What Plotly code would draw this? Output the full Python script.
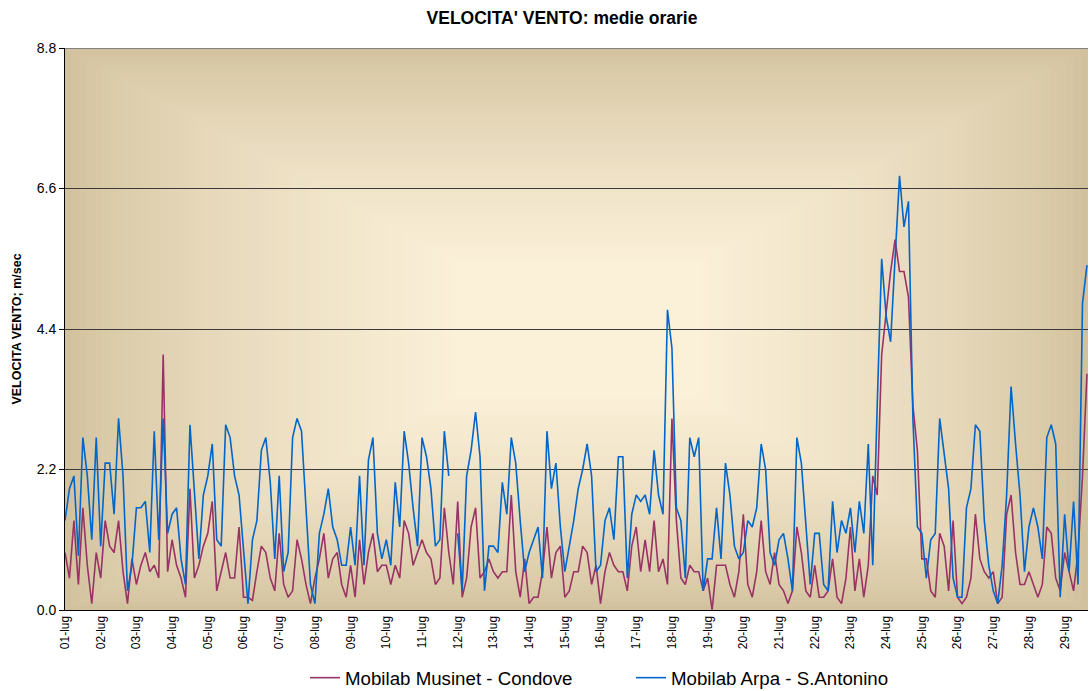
import base64
import pandas as pd
import plotly.graph_objects as go

# medie orarie, lette ogni 3 ore (01-lug 00:00 -> 29-lug 15:00)
condove = [
    0.9, 0.5, 1.4, 0.4, 1.6, 0.7, 0.1, 0.9, 0.5, 1.4, 1.0, 0.9, 1.4, 0.6, 0.1, 0.8,
    0.4, 0.7, 0.9, 0.6, 0.7, 0.5, 4.0, 0.6, 1.1, 0.7, 0.5, 0.2, 1.9, 0.5, 0.7, 1.0,
    1.2, 1.7, 0.3, 0.6, 0.9, 0.5,
    0.5, 1.3, 0.2, 0.2, 0.15, 0.6, 1.0, 0.9, 0.5, 0.3, 1.2, 0.4, 0.2, 0.3, 1.1, 0.8,
    0.4, 0.1, 0.5, 0.8, 1.2, 0.5, 0.8, 0.9, 0.4, 0.2, 0.7, 0.2, 1.1, 0.4, 0.9, 1.2,
    0.6, 0.7, 0.7, 0.4,
    0.7, 0.5, 1.4, 1.2, 0.7, 0.9, 1.1, 0.9, 0.8, 0.4, 0.5, 1.6, 0.9, 0.4, 1.7, 0.2,
    0.5, 1.3, 1.6, 0.5, 0.6, 0.8, 0.6, 0.5, 0.6, 0.6, 1.8, 0.6, 0.2, 0.8, 0.1, 0.2,
    0.2, 0.6, 1.3, 0.5, 0.9, 1.0,
    0.2, 0.3, 0.6, 0.6, 1.0, 0.9, 0.4, 0.7, 0.1, 0.6, 0.9, 0.7, 0.6, 0.6, 0.3, 1.0,
    1.3, 0.6, 1.1, 0.6, 1.4, 0.6, 0.8, 0.4, 3.0, 1.4, 0.5, 0.4, 0.7, 0.6, 0.6, 0.3,
    0.5, 0.0, 0.7, 0.7,
    0.7, 0.4, 0.2, 0.6, 1.5, 0.4, 0.2, 0.6, 1.4, 0.6, 0.4, 0.9, 0.4, 0.3, 0.1, 0.3,
    1.3, 0.9, 0.3, 0.2, 0.7, 0.2, 0.2, 0.3, 0.8, 0.2, 0.1, 0.5, 1.3, 0.3, 0.8, 0.2,
    0.7, 2.1, 1.8, 4.0, 4.7, 5.3, 5.8, 5.3, 5.3, 4.9, 3.2, 2.5,
    0.8, 0.8, 0.3, 0.2, 1.2, 1.0, 0.3, 1.4, 0.2, 0.1, 0.2, 0.5, 1.5, 0.8, 0.6, 0.5,
    0.6, 0.1, 0.2, 1.5, 1.8, 0.9, 0.4,
    0.4, 0.6, 0.4, 0.2, 0.4, 1.3, 1.2, 0.5, 0.3, 0.9, 0.6, 0.3, 0.9, 2.1, 3.7,
]

santonino = [
    1.4, 1.9, 2.1, 0.85, 2.7, 2.1, 1.1, 2.7, 1.0, 2.3, 2.3, 1.5, 3.0, 2.1, 0.3, 0.7,
    1.6, 1.6, 1.7, 0.9, 2.8, 1.1, 3.0, 1.2, 1.5, 1.6, 0.8, 0.4, 2.9, 1.9, 0.8, 1.8,
    2.1, 2.6, 1.1, 1.0, 2.9, 2.7,
    2.1, 1.8, 1.0, 0.1, 1.1, 1.4, 2.5, 2.7, 2.0, 0.8, 2.1, 0.6, 0.9, 2.7, 3.0, 2.8,
    1.6, 0.4, 0.1, 1.2, 1.5, 1.9, 1.3, 1.1, 0.7, 0.7, 1.3, 0.7, 2.1, 0.7, 2.35, 2.7,
    1.2, 0.8, 1.1, 0.7,
    2.0, 1.3, 2.8, 2.3, 1.6, 1.0, 2.7, 2.4, 1.9, 1.0, 1.1, 2.8, 2.1, None, 1.2, 0.3,
    2.1, 2.5, 3.1, 2.4, 0.3, 1.0, 1.0, 0.9, 2.0, 1.5, 2.7, 2.3, 1.4, 0.6, 0.9, 1.1,
    1.3, 0.5, 2.8, 1.9, 2.3, 1.3,
    0.6, 1.0, 1.4, 1.9, 2.2, 2.6, 2.1, 0.6, 0.7, 1.4, 1.6, 1.1, 2.4, 2.4, 0.5, 1.5,
    1.8, 1.7, 1.8, 1.5, 2.5, 1.8, 1.5, 4.7, 4.1, 1.6, 1.4, 0.5, 2.7, 2.4, 2.7, 0.3,
    0.8, 0.8, 1.6, 0.8,
    2.3, 1.8, 1.0, 0.8, 0.9, 1.4, 1.3, 1.6, 2.6, 2.2, 0.9, 0.7, 1.1, 1.2, 0.8, 0.3,
    2.7, 2.3, 1.3, 0.4, 1.2, 1.2, 0.4, 0.3, 1.7, 0.9, 1.4, 1.2, 1.6, 0.9, 1.7, 1.2,
    2.6, 0.7, 3.2, 5.5, 4.6, 4.2, 5.5, 6.8, 6.0, 6.4, 3.0, 1.3,
    1.2, 0.5, 1.1, 1.2, 3.0, 2.4, 1.9, 0.5, 0.2, 0.2, 1.6, 1.9, 2.9, 2.8, 1.4, 0.7,
    0.3, 0.1, 0.7, 1.8, 3.5, 2.6, 1.8,
    0.6, 1.3, 1.6, 1.3, 0.8, 2.7, 2.9, 2.6, 0.2, 1.5, 0.6, 1.7, 0.4, 4.8, 5.4,
]

day_labels = [f"{d:02d}-lug" for d in range(1, 30)]
y_ticks = [0.0, 2.2, 4.4, 6.6, 8.8]

start = pd.Timestamp("2023-07-01 00:00")
times = pd.date_range(start, periods=len(condove), freq="3h")
day_ticks = pd.date_range(start, periods=len(day_labels), freq="D")

# sfondo a gradiente rettangolare (chiaro al centro, beige ai bordi)
outer = (210, 193, 157)
inner = (251, 240, 216)
W, H, N = 1023, 562, 70
rects = []
for i in range(N):
    t = i / N
    k = min(1.0, t / 0.75) ** 0.7
    c = tuple(int(outer[j] + (inner[j] - outer[j]) * k) for j in range(3))
    rects.append(
        f'<rect x="{t * W / 2:.1f}" y="{t * H / 2:.1f}" width="{W * (1 - t):.1f}" '
        f'height="{H * (1 - t):.1f}" fill="rgb{c}"/>'
    )
svg = (f'<svg xmlns="http://www.w3.org/2000/svg" width="{W}" height="{H}" '
       f'viewBox="0 0 {W} {H}" preserveAspectRatio="none">' + "".join(rects) + "</svg>")
bg_src = "data:image/svg+xml;base64," + base64.b64encode(svg.encode()).decode()

fig = go.Figure()
fig.add_trace(go.Scatter(
    x=times, y=condove, mode="lines", name="Mobilab Musinet - Condove",
    line=dict(color="#993366", width=1.6),
))
fig.add_trace(go.Scatter(
    x=times, y=santonino, mode="lines", name="Mobilab Arpa - S.Antonino",
    line=dict(color="#0066CC", width=1.6),
))

fig.add_layout_image(dict(
    source=bg_src, xref="paper", yref="paper", x=0, y=1, sizex=1, sizey=1,
    sizing="stretch", xanchor="left", yanchor="top", layer="below",
))
fig.add_shape(type="line", xref="paper", yref="y", x0=0, x1=1, y0=8.8, y1=8.8,
              line=dict(color="#808080", width=2))

fig.update_layout(
    width=1089, height=691,
    margin=dict(l=65, r=1, t=48, b=81),
    paper_bgcolor="white",
    plot_bgcolor="rgba(0,0,0,0)",
    font=dict(family="Liberation Sans, Arial, sans-serif", color="black"),
    title=dict(text="<b>VELOCITA' VENTO: medie orarie</b>", x=562 / 1089,
               xanchor="center", y=0.974, yanchor="middle", font=dict(size=17.5)),
    showlegend=True,
    legend=dict(orientation="h", xref="container", yref="container",
                x=305 / 1089, xanchor="left", y=1 - 678 / 691, yanchor="middle",
                font=dict(size=18.7), bgcolor="rgba(0,0,0,0)", itemwidth=30,
                entrywidth=281),
)
fig.update_xaxes(
    range=[start, start + pd.Timedelta(hours=687.7)],
    tickvals=day_ticks, ticktext=day_labels, tickangle=-90,
    tickfont=dict(size=12), showgrid=False, zeroline=False,
    showline=True, linecolor="black", linewidth=1, ticks="", automargin=False,
)
fig.update_yaxes(
    range=[0, 8.8], tickvals=y_ticks, tickformat=".1f",
    tickfont=dict(size=14), ticks="outside", ticklen=5, tickcolor="black",
    showgrid=True, gridcolor="#3a3a3a", gridwidth=1, zeroline=False,
    showline=True, linecolor="black", linewidth=1, automargin=False,
    title=dict(text="<b>VELOCITA VENTO; m/sec</b>", font=dict(size=12.5), standoff=12),
)

fig.write_html("out.html", config={"displayModeBar": False})

# niente margine del body, cosi il grafico parte da (0, 0)
with open("out.html", encoding="utf-8") as f:
    page = f.read()
page = page.replace("<body>", '<body style="margin:0">', 1)
with open("out.html", "w", encoding="utf-8") as f:
    f.write(page)
